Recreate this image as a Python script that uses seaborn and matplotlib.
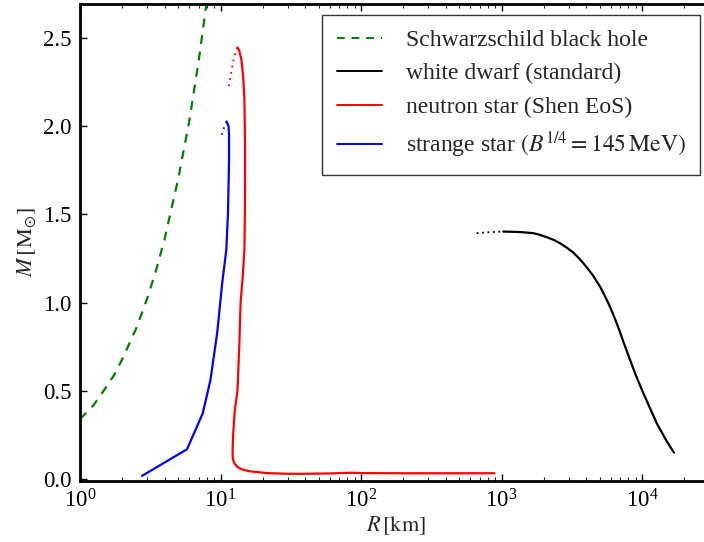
import numpy as np
import pandas as pd
import seaborn as sns
import matplotlib
matplotlib.use("Agg")
import matplotlib.pyplot as plt
from matplotlib.ticker import LogLocator, FixedLocator, FormatStrFormatter

# ---- data ----
bh_R = [1.0, 1.25, 1.5, 1.75, 2.0, 2.5, 3.0, 3.5, 4.0, 5.0, 6.0, 7.0, 8.0]
bh_M = [0.34, 0.42, 0.51, 0.59, 0.68, 0.85, 1.02, 1.19, 1.36, 1.70, 2.03, 2.37, 2.71]

wd_R = [1030, 1150, 1283, 1480, 1685, 1900, 2099, 2350, 2609, 2900, 3245, 3530, 3823,
        4150, 4504, 4750, 5025, 5380, 5760, 6170, 6602, 6980, 7365, 7780, 8220, 8680,
        9165, 9680, 10220, 10800, 11400, 12050, 12730, 13620, 14590, 15700, 16900]
wd_M = [1.402, 1.401, 1.400, 1.397, 1.393, 1.382, 1.370, 1.355, 1.336, 1.312, 1.283,
        1.254, 1.223, 1.188, 1.151, 1.121, 1.091, 1.045, 0.997, 0.942, 0.883, 0.832,
        0.779, 0.728, 0.676, 0.626, 0.577, 0.532, 0.487, 0.445, 0.402, 0.360, 0.317,
        0.275, 0.232, 0.190, 0.151]
wd_R_unstable = [666, 800, 1030]
wd_M_unstable = [1.393, 1.398, 1.402]

ns_R = [890, 500, 200, 100, 85, 60, 40, 30, 21.3, 16.2, 14.2, 13.2, 12.6, 12.3, 12.2,
        12.2, 12.3, 12.6, 13.2, 13.6, 13.9, 14.4, 14.8, 14.95, 14.95, 14.8, 14.5, 14.1,
        13.6, 13.2]
ns_M = [0.034, 0.034, 0.034, 0.035, 0.037, 0.033, 0.031, 0.031, 0.035, 0.045, 0.056,
        0.070, 0.088, 0.110, 0.128, 0.166, 0.25, 0.38, 0.50, 0.75, 1.00, 1.15, 1.30,
        1.58, 1.90, 2.148, 2.28, 2.374, 2.425, 2.444]
ns_R_unstable = [13.2, 12.6, 12.0, 11.4]
ns_M_unstable = [2.444, 2.40, 2.32, 2.214]

ss_R = [2.76, 5.78, 7.48, 8.48, 9.47, 10.28, 11.0, 11.3, 11.5, 11.5, 11.4, 11.05]
ss_M = [0.019, 0.17, 0.374, 0.562, 0.827, 1.11, 1.30, 1.50, 1.80, 1.95, 2.00, 2.025]
ss_R_unstable = [11.05, 10.6, 10.2]
ss_M_unstable = [2.025, 1.99, 1.95]

labels = ["Schwarzschild black hole", "white dwarf (standard)",
          "neutron star (Shen EoS)",
          r"strange star $\left(B^{1/4} = 145\,\mathrm{MeV}\right)$"]
colors = ["#008000", "black", "#ff0000", "#0000ff"]
yticks = [0.0, 0.5, 1.0, 1.5, 2.0, 2.5]

# ---- style ----
sns.set_style("ticks")
plt.rcParams["font.family"] = ["Liberation Serif", "DejaVu Serif"]
plt.rcParams["mathtext.fontset"] = "stix"
plt.rcParams["axes.linewidth"] = 2.0

fig = plt.figure(figsize=(7.04, 5.42), dpi=100)
ax = fig.add_axes([80 / 704, (542 - 480.5) / 542, (712 - 80) / 704, 476.5 / 542])

lw = 1.6
sns.lineplot(x=bh_R, y=bh_M, ax=ax, color=colors[0], lw=lw, sort=False, estimator=None,
             linestyle=(0, (4, 3.5)), label=labels[0])
sns.lineplot(x=wd_R, y=wd_M, ax=ax, color=colors[1], lw=lw, sort=False, estimator=None,
             label=labels[1])
sns.lineplot(x=wd_R_unstable, y=wd_M_unstable, ax=ax, color=colors[1], lw=1.3, sort=False,
             estimator=None, linestyle=(0, (1, 2)))
sns.lineplot(x=ns_R, y=ns_M, ax=ax, color=colors[2], lw=lw, sort=False, estimator=None,
             label=labels[2])
sns.lineplot(x=ns_R_unstable, y=ns_M_unstable, ax=ax, color=colors[2], lw=1.3, sort=False,
             estimator=None, linestyle=(0, (1, 2.5)))
sns.lineplot(x=ss_R, y=ss_M, ax=ax, color=colors[3], lw=lw, sort=False, estimator=None,
             label=labels[3])
sns.lineplot(x=ss_R_unstable, y=ss_M_unstable, ax=ax, color=colors[3], lw=1.3, sort=False,
             estimator=None, linestyle=(0, (1, 2.5)))

ax.set_xscale("log")
ax.set_xlim(1, 10 ** ((712 - 80) / 140.5))
ax.set_ylim(-0.007, 2.69)
ax.yaxis.set_major_locator(FixedLocator(yticks))
ax.yaxis.set_major_formatter(FormatStrFormatter("%.1f"))
ax.xaxis.set_major_locator(LogLocator(base=10, numticks=10))
ax.xaxis.set_minor_locator(LogLocator(base=10, subs=np.arange(2, 10), numticks=20))

ax.tick_params(axis="both", which="major", direction="in", length=5, width=1.0,
               labelsize=16.5, top=True, right=True, pad=6, colors="black")
ax.tick_params(axis="x", which="minor", direction="in", length=3, width=0.8, top=True)
for sp in ax.spines.values():
    sp.set_visible(True)
    sp.set_linewidth(2.0)
    sp.set_color("black")

ax.set_xlabel(r"$R\,[\mathrm{km}]$", fontsize=16, labelpad=2)
ax.set_ylabel(r"$M\,[\mathrm{M}_{\odot}]$", fontsize=16, labelpad=4)

leg = ax.legend(loc="upper right", bbox_to_anchor=(700 / 704, 1 - 15 / 542),
                bbox_transform=fig.transFigure, fontsize=17, frameon=True,
                fancybox=False, edgecolor="#333333", framealpha=1.0,
                handlelength=1.9, handletextpad=1.0, labelspacing=0.5,
                borderpad=0.62, borderaxespad=0)
leg.get_frame().set_linewidth(1.0)
for h in leg.get_lines():
    h.set_linewidth(1.4)

fig.savefig("out.png", dpi=100)
